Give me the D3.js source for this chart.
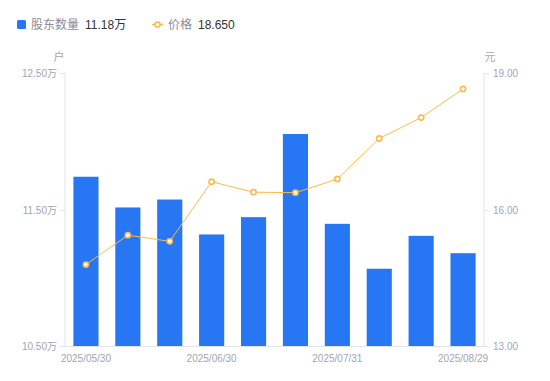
<!DOCTYPE html>
<html><head><meta charset="utf-8">
<script src="https://cdn.jsdelivr.net/npm/d3@7"></script>
<style>body{margin:0;background:#fff}svg{display:block}text{font-family:"Liberation Sans","Noto Sans CJK SC",sans-serif}</style>
</head><body><svg id="c" width="550" height="381"></svg>
<script>
const dates = ["2025/05/30","2025/06/10","2025/06/20","2025/06/30","2025/07/10","2025/07/20","2025/07/31","2025/08/10","2025/08/20","2025/08/29"];
const holders = [11.74, 11.515, 11.573, 11.317, 11.444, 12.053, 11.395, 11.066, 11.307, 11.18];
const prices = [14.79, 15.435, 15.30, 16.61, 16.38, 16.37, 16.67, 17.56, 18.02, 18.65];
const leftTicks = [10.5, 11.5, 12.5];
const rightTicks = [13, 16, 19];
const shownDates = ["2025/05/30","2025/06/30","2025/07/31","2025/08/29"];

const svg = d3.select("#c");
const L = 65, R = 484, T = 73, B = 346;
const x = d3.scaleBand().domain(dates).range([L, R]).paddingInner(0.4).paddingOuter(0.2);
const yL = d3.scaleLinear().domain([10.5, 12.5]).range([B, T]);
const yR = d3.scaleLinear().domain([13, 19]).range([B, T]);
const axisCol = "#e3e3e8", labCol = "#a3a5b3";

// axes lines
svg.append("line").attr("x1", L).attr("x2", L).attr("y1", T).attr("y2", B).attr("stroke", axisCol);
svg.append("line").attr("x1", R).attr("x2", R).attr("y1", T).attr("y2", B).attr("stroke", axisCol);
svg.append("line").attr("x1", L).attr("x2", R).attr("y1", B+0.5).attr("y2", B+0.5).attr("stroke", axisCol);

// left ticks
leftTicks.forEach(v => {
  const y = Math.round(yL(v)) + 0.5;
  svg.append("line").attr("x1", L-5).attr("x2", L).attr("y1", y).attr("y2", y).attr("stroke", axisCol);
  svg.append("text").attr("x", L-8).attr("y", y).attr("dy", "0.35em").attr("text-anchor", "end")
    .attr("font-size", 10).attr("fill", labCol).text(v.toFixed(2) + "万");
});
rightTicks.forEach(v => {
  const y = Math.round(yR(v)) + 0.5;
  svg.append("line").attr("x1", R).attr("x2", R+5).attr("y1", y).attr("y2", y).attr("stroke", axisCol);
  svg.append("text").attr("x", R+9).attr("y", y).attr("dy", "0.35em").attr("text-anchor", "start")
    .attr("font-size", 10).attr("fill", labCol).text(v.toFixed(2));
});
svg.append("text").attr("x", 59).attr("y", 61).attr("text-anchor", "middle").attr("font-size", 11).attr("fill", labCol).text("户");
svg.append("text").attr("x", 490).attr("y", 61).attr("text-anchor", "middle").attr("font-size", 11).attr("fill", labCol).text("元");

// x labels
shownDates.forEach(d => {
  svg.append("text").attr("x", x(d) + x.bandwidth()/2).attr("y", 362).attr("text-anchor", "middle")
    .attr("font-size", 10).attr("fill", labCol).text(d);
});

// bars
svg.append("g").selectAll("rect").data(dates).join("rect")
  .attr("x", d => x(d)).attr("width", x.bandwidth())
  .attr("y", (d,i) => yL(holders[i])).attr("height", (d,i) => B - yL(holders[i]))
  .attr("fill", "#2777f5");

// line
const cx = d => x(d) + x.bandwidth()/2;
const lineCol = "#fdb94a";
svg.append("path").datum(dates)
  .attr("d", d3.line().x(d => cx(d)).y((d,i) => yR(prices[i])))
  .attr("fill", "none").attr("stroke", lineCol).attr("stroke-width", 1);
svg.append("g").selectAll("circle").data(dates).join("circle")
  .attr("cx", d => cx(d)).attr("cy", (d,i) => yR(prices[i])).attr("r", 2.6)
  .attr("fill", "#fff").attr("stroke", lineCol).attr("stroke-width", 1.6);

// legend
svg.append("rect").attr("x", 17).attr("y", 20).attr("width", 9).attr("height", 9).attr("rx", 1.5).attr("fill", "#2777f5");
svg.append("text").attr("x", 31).attr("y", 29).attr("font-size", 12).attr("fill", "#8a8c99").text("股东数量");
svg.append("text").attr("x", 85).attr("y", 29).attr("font-size", 12).attr("fill", "#333").text(holders[holders.length-1].toFixed(2) + "万");
svg.append("line").attr("x1", 152).attr("x2", 163).attr("y1", 24.5).attr("y2", 24.5).attr("stroke", lineCol).attr("stroke-width", 1.5);
svg.append("circle").attr("cx", 157.5).attr("cy", 24.5).attr("r", 2.5).attr("fill", "#fff").attr("stroke", lineCol).attr("stroke-width", 1.6);
svg.append("text").attr("x", 168).attr("y", 29).attr("font-size", 12).attr("fill", "#8a8c99").text("价格");
svg.append("text").attr("x", 198).attr("y", 29).attr("font-size", 12).attr("fill", "#333").text(prices[prices.length-1].toFixed(3));
</script></body></html>
